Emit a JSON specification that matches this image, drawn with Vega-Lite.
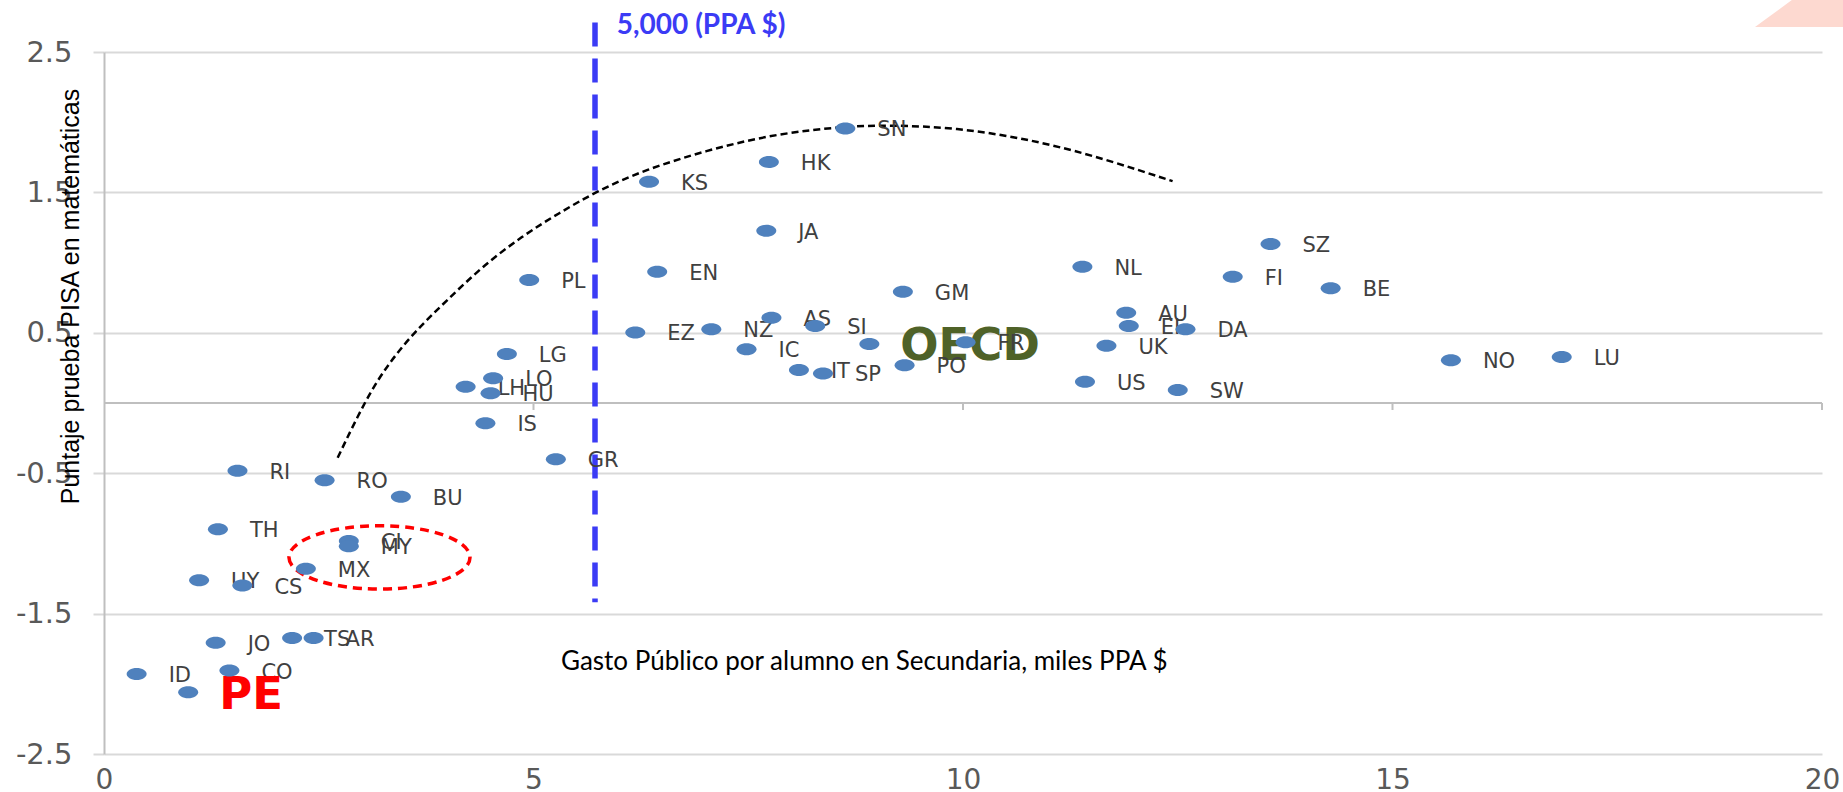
{
  "$schema": "https://vega.github.io/schema/vega-lite/v6.json",
  "width": 1718,
  "height": 702,
  "autosize": {"type": "none"},
  "padding": {"left": 104, "top": 52, "right": 21, "bottom": 38},
  "background": "white",
  "config": {"view": {"stroke": null}},
  "datasets": {
    "pts": [
      {"label": "SN", "x": 8.63, "y": 1.956},
      {"label": "HK", "x": 7.74, "y": 1.717},
      {"label": "KS", "x": 6.345, "y": 1.576},
      {"label": "JA", "x": 7.71, "y": 1.227},
      {"label": "SZ", "x": 13.58, "y": 1.132},
      {"label": "NL", "x": 11.39, "y": 0.971},
      {"label": "EN", "x": 6.44, "y": 0.935},
      {"label": "FI", "x": 13.14, "y": 0.9},
      {"label": "PL", "x": 4.95, "y": 0.876},
      {"label": "BE", "x": 14.28, "y": 0.817},
      {"label": "GM", "x": 9.3, "y": 0.793},
      {"label": "AU", "x": 11.9, "y": 0.643},
      {"label": "AS", "x": 7.77, "y": 0.608},
      {"label": "EI", "x": 11.93, "y": 0.548},
      {"label": "SI", "x": 8.28, "y": 0.548},
      {"label": "NZ", "x": 7.07, "y": 0.525},
      {"label": "DA", "x": 12.59, "y": 0.525},
      {"label": "EZ", "x": 6.185, "y": 0.503},
      {"label": "FR", "x": 10.03, "y": 0.432},
      {"label": "OECD", "x": 8.91, "y": 0.42},
      {"label": "UK", "x": 11.67, "y": 0.408},
      {"label": "IC", "x": 7.48, "y": 0.382},
      {"label": "LG", "x": 4.69, "y": 0.349},
      {"label": "LU", "x": 16.97, "y": 0.328},
      {"label": "NO", "x": 15.68, "y": 0.304},
      {"label": "PO", "x": 9.32, "y": 0.268},
      {"label": "IT", "x": 8.09, "y": 0.235},
      {"label": "SP", "x": 8.37, "y": 0.211},
      {"label": "LO", "x": 4.53, "y": 0.176},
      {"label": "US", "x": 11.42, "y": 0.152},
      {"label": "LH", "x": 4.21, "y": 0.116},
      {"label": "SW", "x": 12.5, "y": 0.093},
      {"label": "HU", "x": 4.5, "y": 0.069},
      {"label": "IS", "x": 4.44, "y": -0.145},
      {"label": "GR", "x": 5.26, "y": -0.4},
      {"label": "RI", "x": 1.554, "y": -0.482},
      {"label": "RO", "x": 2.568, "y": -0.551},
      {"label": "BU", "x": 3.456, "y": -0.667},
      {"label": "TH", "x": 1.326, "y": -0.9},
      {"label": "CI", "x": 2.85, "y": -0.983},
      {"label": "MY", "x": 2.85, "y": -1.02},
      {"label": "MX", "x": 2.35, "y": -1.18},
      {"label": "UY", "x": 1.107, "y": -1.263},
      {"label": "CS", "x": 1.611, "y": -1.3},
      {"label": "TS", "x": 2.19, "y": -1.674},
      {"label": "AR", "x": 2.44, "y": -1.674},
      {"label": "JO", "x": 1.3, "y": -1.707},
      {"label": "CO", "x": 1.46, "y": -1.906},
      {"label": "ID", "x": 0.38, "y": -1.93},
      {"label": "PE", "x": 0.98, "y": -2.06}
    ],
    "curve": [
      {"x": 2.72, "y": -0.39},
      {"x": 3.05, "y": 0.03},
      {"x": 3.31, "y": 0.28},
      {"x": 3.62, "y": 0.51},
      {"x": 3.99, "y": 0.73},
      {"x": 4.4, "y": 0.97},
      {"x": 4.87, "y": 1.19},
      {"x": 5.29, "y": 1.35},
      {"x": 5.74, "y": 1.51},
      {"x": 6.29, "y": 1.66},
      {"x": 7.07, "y": 1.81},
      {"x": 7.85, "y": 1.92},
      {"x": 8.63, "y": 1.97},
      {"x": 9.15, "y": 1.98},
      {"x": 9.93, "y": 1.96},
      {"x": 10.71, "y": 1.885},
      {"x": 11.49, "y": 1.77},
      {"x": 12.44, "y": 1.58}
    ],
    "zeroline": [{"x": 0, "x2": 20, "y": 0}],
    "xticks": [{"x": 5, "y": 0, "y2": -0.05}, {"x": 10, "y": 0, "y2": -0.05}, {"x": 15, "y": 0, "y2": -0.05}, {"x": 20, "y": 0, "y2": -0.05}],
    "threshold": [{"x": 5.716, "y": 2.71, "y2": -1.42, "text": "5,000 (PPA $)", "tx": 5.97, "ty": 2.685}],
    "ellipse": [{"x": 3.207, "y": -1.1}],
    "xtitle": [{"x": 8.85, "y": -1.845, "text": "Gasto Público por alumno en Secundaria, miles PPA $"}],
    "deco": [
      {"x": 19.22, "y": 2.678, "y2": 2.678},
      {"x": 19.67, "y": 2.88, "y2": 2.678},
      {"x": 20.3, "y": 2.88, "y2": 2.678}
    ]
  },
  "layer": [
    {
      "data": {"name": "pts"},
      "mark": {"type": "point", "opacity": 0},
      "encoding": {
        "x": {"field": "x", "type": "quantitative", "scale": {"domain": [0, 20], "nice": false, "zero": false},
          "axis": {"values": [0, 5, 10, 15, 20], "labelExpr": "'' + datum.value", "domain": false, "ticks": false, "grid": false, "title": null,
            "labelFont": "DejaVu Sans", "labelFontSize": 28, "labelColor": "#595959", "labelPadding": 12, "labelFlush": false, "labelOverlap": false}},
        "y": {"field": "y", "type": "quantitative", "scale": {"domain": [-2.5, 2.5], "nice": false, "zero": false},
          "axis": {"values": [-2.5, -1.5, -0.5, 0.5, 1.5, 2.5], "labelExpr": "'' + datum.value",
            "grid": true, "gridColor": "#d9d9d9", "gridWidth": 2,
            "domain": true, "domainColor": "#bfbfbf", "domainWidth": 2,
            "ticks": true, "tickColor": "#d9d9d9", "tickWidth": 2, "tickSize": 11,
            "labelFont": "DejaVu Sans", "labelFontSize": 29, "labelColor": "#595959", "labelPadding": 21, "labelFlush": false, "labelOverlap": false,
            "title": "Puntaje prueba PISA en matemáticas", "titleFont": "Liberation Sans", "titleFontSize": 25, "titleFontWeight": "normal",
            "titleColor": "#000000", "titleX": -34, "titleY": 244, "titleAngle": 270, "titleBaseline": "middle", "titleAlign": "center"}}
      }
    },
    {
      "data": {"name": "deco"},
      "mark": {"type": "area", "color": "#fdd9d0", "opacity": 1},
      "encoding": {
        "x": {"field": "x", "type": "quantitative"},
        "y": {"field": "y", "type": "quantitative"},
        "y2": {"field": "y2"}
      }
    },
    {
      "data": {"name": "zeroline"},
      "mark": {"type": "rule", "color": "#bfbfbf", "strokeWidth": 2},
      "encoding": {
        "x": {"field": "x", "type": "quantitative"},
        "x2": {"field": "x2"},
        "y": {"field": "y", "type": "quantitative"}
      }
    },
    {
      "data": {"name": "xticks"},
      "mark": {"type": "rule", "color": "#bfbfbf", "strokeWidth": 2},
      "encoding": {
        "x": {"field": "x", "type": "quantitative"},
        "y": {"field": "y", "type": "quantitative"},
        "y2": {"field": "y2"}
      }
    },
    {
      "data": {"name": "curve"},
      "mark": {"type": "line", "color": "#000000", "strokeWidth": 2.5, "strokeDash": [7, 4], "interpolate": "basis"},
      "encoding": {
        "x": {"field": "x", "type": "quantitative"},
        "y": {"field": "y", "type": "quantitative"}
      }
    },
    {
      "data": {"name": "threshold"},
      "mark": {"type": "rule", "color": "#3b3bf5", "strokeWidth": 5.5, "strokeDash": [24, 12]},
      "encoding": {
        "x": {"field": "x", "type": "quantitative"},
        "y": {"field": "y", "type": "quantitative"},
        "y2": {"field": "y2"}
      }
    },
    {
      "data": {"name": "threshold"},
      "mark": {"type": "text", "color": "#3b3bf5", "font": "Lato", "fontWeight": "bold", "fontSize": 28, "align": "left", "baseline": "middle"},
      "encoding": {
        "x": {"field": "tx", "type": "quantitative"},
        "y": {"field": "ty", "type": "quantitative"},
        "text": {"field": "text"}
      }
    },
    {
      "data": {"name": "ellipse"},
      "mark": {"type": "point", "shape": "M -1 0 A 1 0.35 0 1 0 1 0 A 1 0.35 0 1 0 -1 0", "size": 32761, "filled": false,
        "stroke": "#ff0000", "strokeWidth": 3.5, "strokeDash": [9, 6], "opacity": 1},
      "encoding": {
        "x": {"field": "x", "type": "quantitative"},
        "y": {"field": "y", "type": "quantitative"}
      }
    },
    {
      "data": {"name": "pts"},
      "transform": [{"filter": "datum.label == 'OECD'"}],
      "mark": {"type": "text", "color": "#4f6228", "font": "DejaVu Sans", "fontWeight": "bold", "fontSize": 45, "align": "left", "baseline": "middle", "dx": 31, "dy": 2},
      "encoding": {
        "x": {"field": "x", "type": "quantitative"},
        "y": {"field": "y", "type": "quantitative"},
        "text": {"field": "label"}
      }
    },
    {
      "data": {"name": "pts"},
      "transform": [{"filter": "datum.label != 'OECD' && datum.label != 'PE'"}],
      "mark": {"type": "text", "color": "#404040", "font": "DejaVu Sans", "fontSize": 21, "align": "left", "baseline": "middle", "dx": 32, "dy": 2},
      "encoding": {
        "x": {"field": "x", "type": "quantitative"},
        "y": {"field": "y", "type": "quantitative"},
        "text": {"field": "label"}
      }
    },
    {
      "data": {"name": "pts"},
      "transform": [{"filter": "datum.label == 'PE'"}],
      "mark": {"type": "text", "color": "#ff0000", "font": "DejaVu Sans", "fontWeight": "bold", "fontSize": 45, "align": "left", "baseline": "middle", "dx": 31, "dy": 3},
      "encoding": {
        "x": {"field": "x", "type": "quantitative"},
        "y": {"field": "y", "type": "quantitative"},
        "text": {"field": "label"}
      }
    },
    {
      "data": {"name": "pts"},
      "mark": {"type": "point", "shape": "M -1 0 A 1 0.6 0 1 0 1 0 A 1 0.6 0 1 0 -1 0", "size": 400, "filled": true, "color": "#4f81bd", "opacity": 1, "strokeWidth": 0},
      "encoding": {
        "x": {"field": "x", "type": "quantitative"},
        "y": {"field": "y", "type": "quantitative"}
      }
    },
    {
      "data": {"name": "xtitle"},
      "mark": {"type": "text", "color": "#000000", "font": "Lato", "fontSize": 26, "align": "center", "baseline": "middle"},
      "encoding": {
        "x": {"field": "x", "type": "quantitative"},
        "y": {"field": "y", "type": "quantitative"},
        "text": {"field": "text"}
      }
    }
  ]
}
